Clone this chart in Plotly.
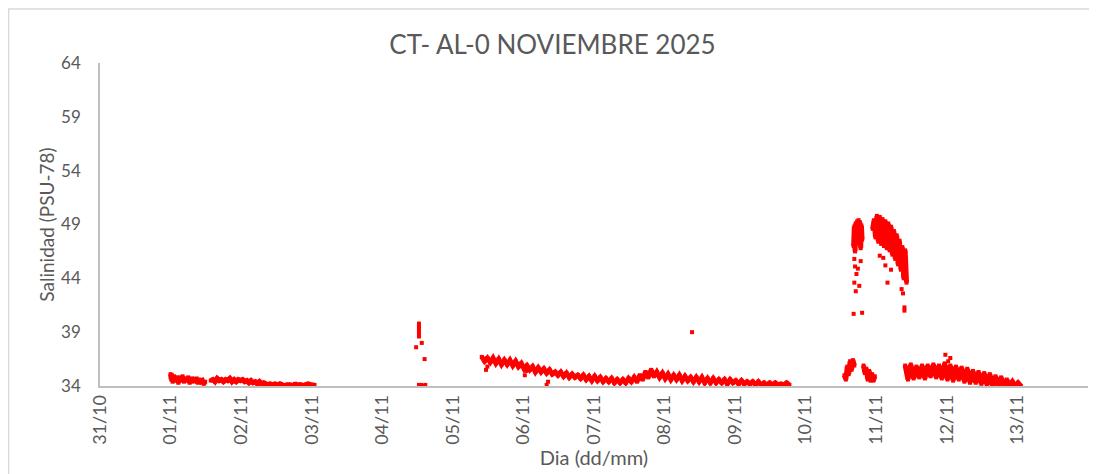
import pandas as pd
import plotly.graph_objects as go

# dias desde 31/10 00:00 y salinidad (PSU-78); None = hueco entre tramos
fecha_base = "2025-10-31"

dia_banda = [
    # 01/11
    1.00, 1.01, 1.02, 1.03, 1.05, 1.07, 1.09, 1.11, 1.13, 1.15, 1.17, 1.19, 1.21, 1.23,
    1.25, 1.27, 1.29, 1.31, 1.33, 1.35, 1.37, 1.39, 1.41, 1.43, 1.45, 1.47, 1.49, None,
    1.57, 1.60, 1.63, 1.66, 1.69, 1.72, 1.75, 1.78, 1.81, 1.84, 1.87, 1.90, 1.93, 1.96,
    1.99, 2.02, 2.05, 2.08, 2.11, 2.14, 2.17, 2.20, 2.23, 2.26, 2.29, 2.32, 2.35, 2.38,
    2.41, 2.44, 2.48, 2.52, 2.55, 2.59, None,
    2.63, 2.67, 2.72, None, 2.76, 2.80, 2.85, None, 2.90, 2.95, 3.00, 3.04, None,
    # 05/11 - 09/11
    5.41, 5.45, 5.49, 5.53, 5.57, 5.61, 5.65, 5.69, 5.73, 5.77, 5.81, 5.85, 5.89, 5.93,
    5.97, 6.01, 6.05, 6.09, 6.13, 6.17, 6.21, 6.25, 6.29, 6.33, 6.37, 6.41, 6.45, 6.49,
    6.53, 6.57, 6.61, 6.65, 6.69, 6.73, 6.77, 6.81, 6.85, 6.89, 6.93, 6.97, 7.01, 7.05,
    7.09, 7.13, 7.17, 7.21, 7.25, 7.29, 7.33, 7.37, 7.41, 7.45, 7.49, 7.53, 7.57, 7.61,
    7.65, 7.69, 7.73, 7.77, 7.81, 7.85, 7.89, 7.93, 7.97, 8.01, 8.05, 8.09, 8.13, 8.17,
    8.21, 8.25, 8.29, 8.33, 8.37, 8.41, 8.45, 8.49, 8.53, 8.57, 8.61, 8.65, 8.69, 8.73,
    8.77, 8.81, 8.85, 8.89, 8.93, 8.97, 9.01, 9.05, 9.09, 9.13, 9.17, 9.21, 9.25, 9.29,
    9.33, 9.37, 9.41, 9.45, 9.49, 9.53, 9.57, 9.61, 9.65, 9.69, 9.73, 9.77, None,
    # 10/11 - 11/11
    10.55, 10.57, 10.59, 10.61, 10.63, 10.65, 10.67, 10.69, None,
    10.68, 10.69, 10.70, 10.71, 10.72, 10.73, 10.74, 10.75, 10.76, 10.77, 10.78, 10.79, 10.80, None,
    10.82, 10.84, 10.86, 10.88, 10.90, 10.92, 10.94, 10.96, 10.98, None,
    10.95, 10.97, 10.99, 11.01, 11.03, 11.05, 11.07, 11.09, 11.11, 11.13, 11.15, 11.17,
    11.19, 11.21, 11.23, 11.25, 11.27, 11.29, 11.31, 11.33, 11.35, 11.37, 11.39, 11.41, 11.43, None,
    # 11/11 - 13/11
    11.41, 11.45, 11.49, 11.53, 11.57, 11.61, 11.65, 11.69, 11.73, 11.77, 11.81, 11.85,
    11.89, 11.93, 11.97, 12.01, 12.05, 12.09, 12.13, 12.17, 12.21, 12.25, 12.29, 12.33,
    12.37, 12.41, 12.45, 12.49, 12.53, 12.57, 12.61, 12.65, 12.69, 12.73, 12.77, 12.81,
    12.85, 12.89, 12.93, 12.97, 13.01, 13.05,
]
sal_banda = [
    35.1, 34.6, 35.0, 34.4, 34.9, 34.5, 34.8, 34.3, 34.8, 34.5, 34.9, 34.4, 34.7, 34.5,
    34.8, 34.3, 34.7, 34.4, 34.6, 34.5, 34.7, 34.3, 34.6, 34.4, 34.5, 34.2, 34.4, None,
    34.5, 34.6, 34.4, 34.7, 34.5, 34.6, 34.4, 34.6, 34.5, 34.7, 34.4, 34.6, 34.4, 34.6,
    34.5, 34.6, 34.4, 34.5, 34.3, 34.5, 34.3, 34.4, 34.2, 34.4, 34.2, 34.3, 34.2, 34.1,
    34.2, 34.1, 34.2, 34.1, 34.2, 34.1, None,
    34.1, 34.15, 34.1, None, 34.2, 34.1, 34.15, None, 34.1, 34.2, 34.1, 34.1, None,
    36.7, 36.3, 36.6, 36.2, 36.6, 36.1, 36.5, 36.0, 36.4, 36.0, 36.4, 35.9, 36.3, 35.8,
    36.1, 35.6, 35.9, 35.5, 35.8, 35.3, 35.7, 35.3, 35.6, 35.2, 35.5, 35.1, 35.3, 35.0,
    35.3, 34.9, 35.2, 34.8, 35.1, 34.8, 35.0, 34.7, 35.0, 34.6, 34.9, 34.5, 34.9, 34.5,
    34.8, 34.4, 34.7, 34.4, 34.7, 34.3, 34.6, 34.3, 34.6, 34.3, 34.7, 34.4, 34.8, 34.4,
    35.0, 34.6, 35.3, 34.8, 35.5, 34.9, 35.3, 34.8, 35.2, 34.7, 35.1, 34.6, 35.0, 34.6,
    35.0, 34.5, 34.9, 34.5, 34.8, 34.4, 34.8, 34.4, 34.8, 34.3, 34.7, 34.3, 34.7, 34.3,
    34.6, 34.3, 34.6, 34.2, 34.6, 34.3, 34.5, 34.2, 34.5, 34.2, 34.4, 34.2, 34.4, 34.1,
    34.4, 34.1, 34.3, 34.1, 34.3, 34.1, 34.3, 34.1, 34.2, 34.1, 34.3, 34.1, None,
    35.0, 34.6, 35.8, 35.1, 36.3, 35.5, 36.4, 35.9, None,
    47.0, 48.8, 46.5, 49.1, 47.5, 49.3, 47.8, 49.4, 47.2, 49.2, 46.8, 48.9, 47.6, None,
    35.9, 35.2, 35.6, 34.6, 35.4, 34.5, 35.1, 34.5, 34.9, None,
    48.6, 49.4, 47.8, 49.8, 47.4, 49.7, 47.2, 49.5, 47.0, 49.3, 46.8, 49.1,
    46.6, 48.8, 46.2, 48.4, 45.8, 48.0, 45.3, 47.5, 44.8, 46.9, 44.0, 46.6, 43.6, None,
    35.9, 34.6, 36.0, 34.7, 35.8, 34.8, 35.9, 34.7, 35.9, 34.9, 36.0, 34.8,
    35.9, 34.7, 36.1, 34.6, 35.9, 34.5, 35.8, 34.6, 35.7, 34.4, 35.6, 34.3,
    35.4, 34.3, 35.3, 34.2, 35.2, 34.1, 35.1, 34.0, 34.9, 34.0, 34.8, 34.0,
    34.6, 34.0, 34.4, 34.0, 34.3, 34.0,
]

# puntos sueltos
dia_puntos = [
    4.48, 4.52, 4.52, 4.52, 4.52, 4.52, 4.56, 4.60, 4.52, 4.55, 4.58, 4.61,
    5.47, 5.49, 6.02, 6.04, 6.33, 6.35, 8.39,
    10.69, 10.70, 10.72, 10.69, 10.74, 10.76, 10.71, 10.68, 10.80, 10.78,
    11.10, 11.13, 11.16, 11.05, 11.21, 11.40, 11.40, 11.36, 11.38,
    11.98, 12.05, 12.02,
]
sal_puntos = [
    37.6, 39.8, 39.5, 39.2, 38.9, 38.6, 38.0, 36.5, 34.1, 34.1, 34.0, 34.1,
    35.5, 35.8, 35.0, 35.4, 34.1, 34.4, 39.0,
    45.8, 45.1, 44.4, 43.6, 44.9, 43.3, 42.8, 40.7, 40.8, 45.6,
    45.9, 45.2, 43.6, 46.1, 44.8, 41.3, 41.0, 43.0, 42.6,
    36.9, 36.6, 36.3,
]

ticks_fecha = ["2025-10-31", "2025-11-01", "2025-11-02", "2025-11-03", "2025-11-04",
               "2025-11-05", "2025-11-06", "2025-11-07", "2025-11-08", "2025-11-09",
               "2025-11-10", "2025-11-11", "2025-11-12", "2025-11-13", "2025-11-14"]
ticks_texto = ["31/10", "01/11", "02/11", "03/11", "04/11", "05/11", "06/11", "07/11",
               "08/11", "09/11", "10/11", "11/11", "12/11", "13/11", "14/11"]
ticks_sal = [34, 39, 44, 49, 54, 59, 64]


def a_fecha(dias):
    base = pd.Timestamp(fecha_base)
    return [None if d is None else (base + pd.to_timedelta(d, unit="D")).strftime("%Y-%m-%d %H:%M:%S")
            for d in dias]


GRIS = "#595959"
fuente = "Lato"

fig = go.Figure()
fig.add_trace(go.Scatter(x=a_fecha(dia_banda), y=sal_banda, mode="lines+markers",
                         line=dict(color="#ff0000", width=5),
                         marker=dict(symbol="square", size=4, color="#ff0000"),
                         connectgaps=False, cliponaxis=False, showlegend=False))
fig.add_trace(go.Scatter(x=a_fecha(dia_puntos), y=sal_puntos, mode="markers",
                         marker=dict(symbol="square", size=4, color="#ff0000"),
                         cliponaxis=False, showlegend=False))

# la pagina deja 8 px de margen arriba y a la izquierda -> figura 8 px mas chica
fig.update_layout(
    width=1089, height=466,
    margin=dict(l=92, r=9, t=55, b=88),
    paper_bgcolor="white", plot_bgcolor="white",
    font=dict(family=fuente, color=GRIS),
    title=dict(text="CT- AL-0 NOVIEMBRE 2025", x=0.5, xref="container", xanchor="center",
               y=0.921, yref="container", yanchor="middle",
               font=dict(family=fuente, size=26, color=GRIS)),
    xaxis=dict(type="date", range=[ticks_fecha[0], "2025-11-14 00:02"], automargin=False,
               tickmode="array", tickvals=ticks_fecha, ticktext=ticks_texto,
               tickangle=-90, tickfont=dict(size=18, color=GRIS),
               showgrid=False, zeroline=False, showline=True, linecolor="#bfbfbf", linewidth=1.5,
               ticks="", title=dict(text="Dia (dd/mm)", standoff=0, font=dict(size=20, color=GRIS))),
    yaxis=dict(range=[34, 64], tickmode="array", tickvals=ticks_sal, automargin=False,
               tickfont=dict(size=17, color=GRIS), ticklabelstandoff=14,
               showgrid=False, zeroline=False, showline=True, linecolor="#bfbfbf", linewidth=1.5,
               ticks="", title=dict(text="Salinidad (PSU-78)", standoff=1, font=dict(size=19, color=GRIS))),
)

# borde del area del grafico
fig.add_shape(type="rect", xref="paper", yref="paper", x0=-0.0925, x1=1.05, y0=-0.5, y1=1.167,
              line=dict(color="#d9d9d9", width=1.5), fillcolor="rgba(0,0,0,0)", layer="below")

fig.write_html("out.html")
